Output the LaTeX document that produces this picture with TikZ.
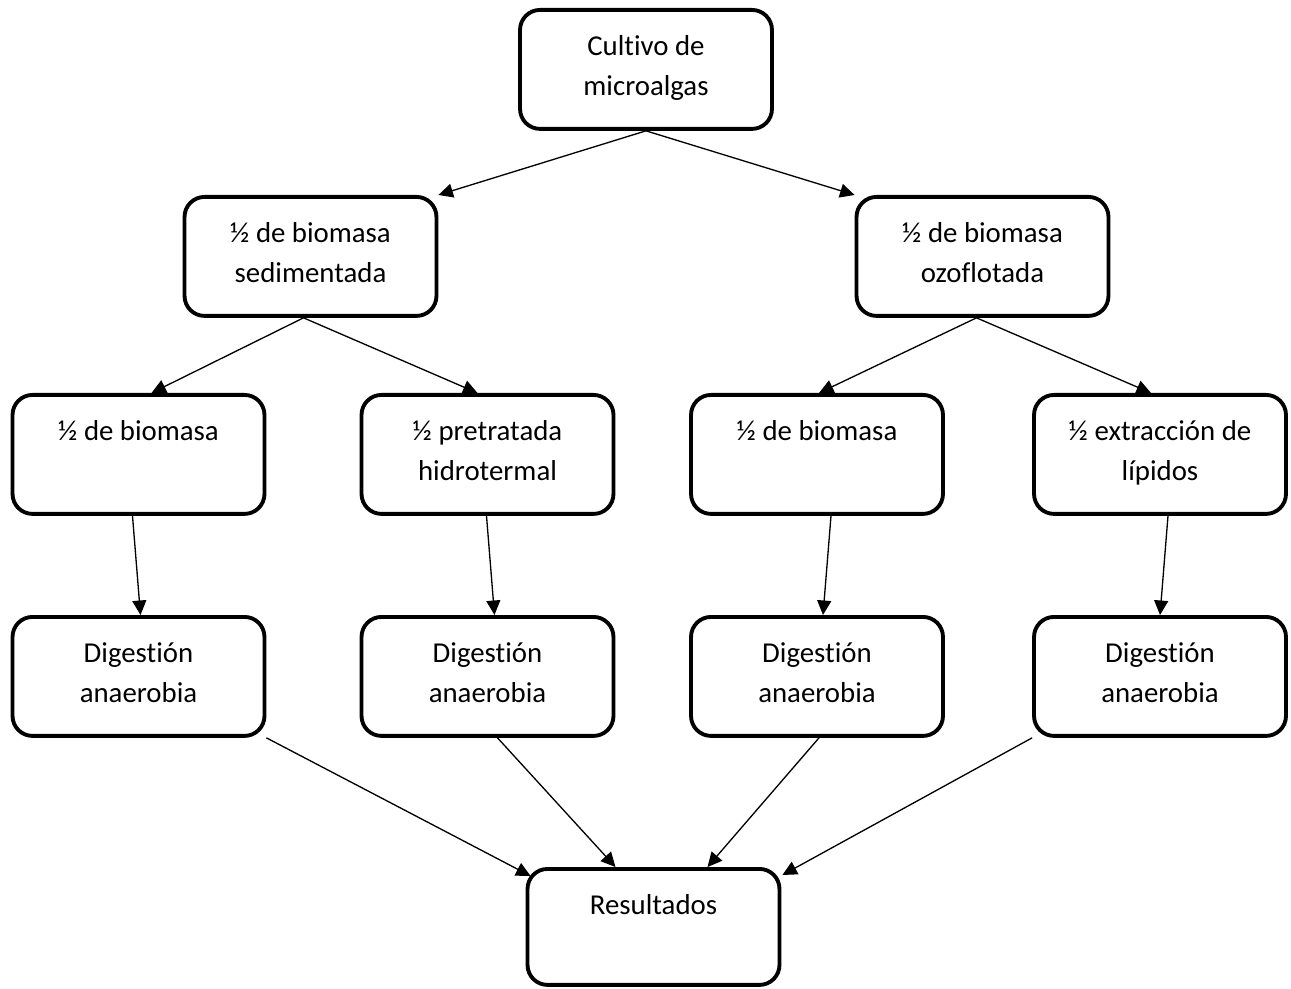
\documentclass[tikz,border=0pt]{standalone}
\usepackage{fontspec}
\setmainfont{Carlito}[Ligatures=NoCommon]
\usepackage{xcolor}
\usetikzlibrary{arrows.meta,calc}
\definecolor{ink}{HTML}{000000}
\tikzset{
  flowBox/.style={draw=ink, line width=2.2pt, rounded corners=0.4cm, text=ink,
    font=\fontsize{16.4}{22.8}\selectfont, text width=4.52cm, align=flush center,
    inner xsep=0.26cm, inner ysep=0pt, text height=0.92cm, text depth=1.46cm,
    anchor=north},
  lowBox/.style={flowBox, text depth=1.40cm},
  flowArrow/.style={draw=ink, line width=0.75pt,
    -{Triangle[length=0.29cm,width=0.28cm]}}
}

\begin{document}
\begin{tikzpicture}[x=0.02cm, y=-0.02cm]
  \useasboundingbox (0,0) rectangle (1291,989);

  % top
  \node[flowBox] (cult) at (646,8) {Cultivo de\\microalgas};

  % halves
  \node[flowBox] (sed) at (310.5,195) {½ de biomasa\\sedimentada};
  \node[flowBox] (ozo) at (982.5,195) {½ de biomasa\\ozoflotada};

  % treatments
  \node[flowBox] (sedA) at (138.5,393) {½ de biomasa};
  \node[flowBox] (sedB) at (487.5,393) {½ pretratada\\hidrotermal};
  \node[flowBox] (ozoA) at (817,393) {½ de biomasa};
  \node[flowBox] (ozoB) at (1160,393) {½ extracción de\\lípidos};

  % digestion
  \node[flowBox] (digA) at (138.5,615) {Digestión\\anaerobia};
  \node[flowBox] (digB) at (487.5,615) {Digestión\\anaerobia};
  \node[flowBox] (digC) at (817,615) {Digestión\\anaerobia};
  \node[flowBox] (digD) at (1160,615) {Digestión\\anaerobia};

  % results
  \node[lowBox] (res) at (653.5,867) {Resultados};

  % arrows
  \draw[flowArrow] (cult.south) -- (sed.north east);
  \draw[flowArrow] (cult.south) -- (ozo.north west);

  \draw[flowArrow] ($(sed.south)+(-7,0)$) -- ($(sedA.north)+(13,0)$);
  \draw[flowArrow] ($(sed.south)+(-7,0)$) -- ($(sedB.north)+(-10,0)$);
  \draw[flowArrow] ($(ozo.south)+(-6,0)$) -- ($(ozoA.north)+(2,0)$);
  \draw[flowArrow] ($(ozo.south)+(-6,0)$) -- ($(ozoB.north)+(-9,0)$);

  \draw[flowArrow] ($(sedA.south)+(-6,0)$) -- ($(digA.north)+(2,0)$);
  \draw[flowArrow] ($(sedB.south)+(-1,0)$) -- ($(digB.north)+(7,0)$);
  \draw[flowArrow] ($(ozoA.south)+(14,0)$) -- ($(digC.north)+(6,0)$);
  \draw[flowArrow] ($(ozoB.south)+(8,0)$) -- (digD.north);

  \draw[flowArrow] (digA.south east) -- ($(res.north west)+(5,9)$);
  \draw[flowArrow] ($(digB.south)+(10,0)$) -- ($(res.north)+(-38,0)$);
  \draw[flowArrow] ($(digC.south)+(2,0)$) -- ($(res.north)+(54,0)$);
  \draw[flowArrow] (digD.south west) -- ($(res.north east)+(1,8)$);
\end{tikzpicture}
\end{document}
